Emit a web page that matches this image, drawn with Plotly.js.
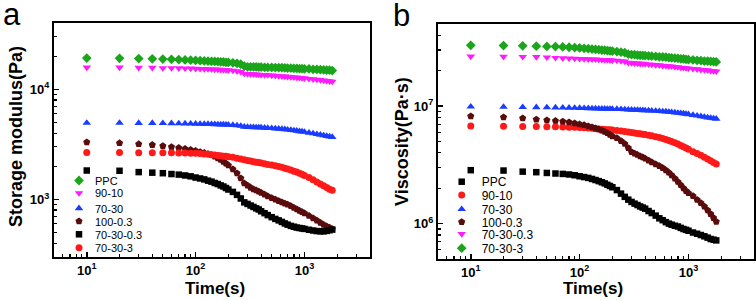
<!DOCTYPE html>
<html>
<head>
<meta charset="utf-8">
<script src="https://cdn.plot.ly/plotly-3.0.1.min.js"></script>
<style>html,body{margin:0;padding:0;background:#fff;}#plot{width:756px;height:300px;}</style>
</head>
<body>
<div id="plot"></div>
<script>
// ---- Data ----
const time = [10,20,30,40,50,60,70,80,90,100,110,120,130,140,150,160,170,180,190,200,220,240,260,280,300,320,340,360,380,400,430,460,500,540,580,620,660,700,750,800,850,900,950,1000,1100,1200,1300,1400,1500,1600,1700,1800];

// Panel a: storage modulus (Pa)
const gNames = ['PPC','90-10','70-30','100-0.3','70-30-0.3','70-30-3'];
const gPPC = [19200,19100,19000,18900,18800,18700,18600,18500,18400,18300,18200,18100,18000,17950,17900,17800,17750,17700,17600,17550,17400,17200,16900,16200,16000,16000,15950,15950,15900,15900,15850,15800,15800,15750,15700,15700,15650,15600,15550,15500,15450,15400,15400,15350,15300,15200,15150,15100,15000,14950,14900,14800];
const g90_10 = [15800,15800,15700,15700,15600,15600,15550,15500,15450,15400,15350,15300,15250,15200,15150,15100,15050,15000,14950,14900,14800,14600,14400,13900,13800,13750,13700,13650,13600,13550,13500,13450,13350,13300,13200,13150,13100,13000,12950,12850,12800,12700,12650,12600,12450,12350,12250,12150,12050,11950,11850,11750];
const g70_30 = [4950,4950,4940,4930,4920,4910,4900,4890,4870,4860,4850,4840,4830,4820,4810,4800,4790,4780,4770,4760,4740,4700,4650,4560,4540,4530,4520,4510,4500,4490,4470,4450,4430,4400,4380,4350,4330,4300,4270,4230,4200,4160,4130,4100,4030,3970,3910,3860,3810,3760,3720,3680];
const g100_03 = [3310,3250,3180,3130,3060,3000,2940,2880,2820,2760,2700,2650,2590,2530,2450,2370,2290,2200,2120,2040,1880,1730,1560,1400,1340,1280,1240,1210,1180,1150,1110,1070,1030,1000,970,945,920,900,870,840,815,790,770,750,710,675,645,615,590,570,555,540];
const g70_30_03 = [1830,1820,1770,1750,1730,1700,1680,1650,1620,1580,1550,1520,1480,1450,1410,1380,1340,1310,1270,1230,1170,1100,1020,940,910,880,855,830,810,780,750,720,690,665,645,625,605,590,575,565,555,550,545,540,530,522,516,513,513,518,525,532];
const g70_30_3 = [2670,2670,2660,2660,2650,2650,2640,2640,2630,2620,2610,2590,2570,2550,2530,2510,2490,2470,2460,2440,2410,2370,2330,2290,2260,2230,2200,2180,2160,2140,2110,2080,2050,2020,1990,1960,1920,1890,1850,1800,1770,1730,1690,1650,1580,1510,1440,1380,1330,1280,1240,1210];

// Panel b: viscosity (Pa·s)
const vNames = ['PPC','90-10','70-30','100-0.3','70-30-0.3','70-30-3'];
const vPPC = [2.85e6,2.83e6,2.77e6,2.74e6,2.70e6,2.67e6,2.65e6,2.62e6,2.58e6,2.53e6,2.49e6,2.45e6,2.40e6,2.35e6,2.30e6,2.25e6,2.20e6,2.14e6,2.09e6,2.04e6,1.93e6,1.80e6,1.69e6,1.60e6,1.53e6,1.48e6,1.44e6,1.40e6,1.37e6,1.34e6,1.28e6,1.23e6,1.17e6,1.11e6,1.07e6,1.03e6,1.00e6,9.8e5,9.6e5,9.45e5,9.2e5,9.0e5,8.85e5,8.7e5,8.4e5,8.2e5,8.0e5,7.8e5,7.6e5,7.4e5,7.3e5,7.2e5];
const v90_10 = [6.76e6,6.74e6,6.72e6,6.70e6,6.68e6,6.66e6,6.64e6,6.62e6,6.60e6,6.57e6,6.54e6,6.50e6,6.47e6,6.43e6,6.40e6,6.37e6,6.34e6,6.31e6,6.28e6,6.25e6,6.19e6,6.13e6,6.07e6,6.01e6,5.96e6,5.91e6,5.86e6,5.81e6,5.77e6,5.73e6,5.66e6,5.59e6,5.50e6,5.40e6,5.30e6,5.20e6,5.10e6,5.00e6,4.88e6,4.75e6,4.63e6,4.52e6,4.41e6,4.30e6,4.10e6,3.95e6,3.82e6,3.68e6,3.55e6,3.43e6,3.32e6,3.22e6];
const v70_30 = [9.9e6,9.85e6,9.8e6,9.78e6,9.75e6,9.72e6,9.7e6,9.68e6,9.65e6,9.62e6,9.6e6,9.58e6,9.56e6,9.54e6,9.52e6,9.5e6,9.49e6,9.47e6,9.46e6,9.45e6,9.43e6,9.41e6,9.38e6,9.33e6,9.3e6,9.28e6,9.26e6,9.24e6,9.22e6,9.2e6,9.17e6,9.14e6,9.1e6,9.06e6,9.02e6,8.98e6,8.93e6,8.88e6,8.82e6,8.76e6,8.7e6,8.64e6,8.58e6,8.52e6,8.4e6,8.3e6,8.2e6,8.1e6,8.0e6,7.93e6,7.86e6,7.8e6];
const v100_03 = [8.2e6,8.06e6,7.9e6,7.7e6,7.6e6,7.5e6,7.4e6,7.3e6,7.15e6,7.0e6,6.9e6,6.75e6,6.62e6,6.48e6,6.35e6,6.2e6,6.05e6,5.9e6,5.72e6,5.55e6,5.35e6,5.05e6,4.78e6,4.4e6,4.07e6,3.95e6,3.85e6,3.75e6,3.67e6,3.58e6,3.45e6,3.33e6,3.2e6,3.1e6,2.98e6,2.85e6,2.72e6,2.58e6,2.42e6,2.27e6,2.13e6,2.0e6,1.9e6,1.82e6,1.72e6,1.6e6,1.5e6,1.4e6,1.3e6,1.21e6,1.12e6,1.04e6];
const v70_30_03 = [2.65e7,2.64e7,2.63e7,2.62e7,2.6e7,2.58e7,2.56e7,2.55e7,2.54e7,2.53e7,2.52e7,2.51e7,2.5e7,2.5e7,2.49e7,2.48e7,2.48e7,2.47e7,2.46e7,2.45e7,2.44e7,2.42e7,2.4e7,2.34e7,2.33e7,2.32e7,2.31e7,2.3e7,2.3e7,2.29e7,2.27e7,2.26e7,2.24e7,2.23e7,2.21e7,2.2e7,2.19e7,2.18e7,2.16e7,2.15e7,2.13e7,2.12e7,2.11e7,2.1e7,2.08e7,2.06e7,2.04e7,2.03e7,2.02e7,2.0e7,1.99e7,1.98e7];
const v70_30_3 = [3.29e7,3.28e7,3.26e7,3.24e7,3.22e7,3.21e7,3.19e7,3.17e7,3.15e7,3.13e7,3.1e7,3.08e7,3.06e7,3.04e7,3.02e7,3.0e7,2.99e7,2.97e7,2.95e7,2.94e7,2.91e7,2.88e7,2.85e7,2.77e7,2.75e7,2.74e7,2.72e7,2.71e7,2.7e7,2.69e7,2.68e7,2.66e7,2.65e7,2.63e7,2.62e7,2.61e7,2.59e7,2.58e7,2.56e7,2.55e7,2.53e7,2.52e7,2.5e7,2.49e7,2.47e7,2.45e7,2.44e7,2.42e7,2.41e7,2.4e7,2.39e7,2.38e7];

// Tick labels
const xTickVals = [10,100,1000];
const xTickText = ['10<sup>1</sup>','10<sup>2</sup>','10<sup>3</sup>'];
const gTickVals = [1000,10000];
const gTickText = ['10<sup>3</sup>','10<sup>4</sup>'];
const vTickVals = [1e6,1e7];
const vTickText = ['10<sup>6</sup>','10<sup>7</sup>'];

// ---- Styles ----
const FONT = 'Arial, "Liberation Sans", Helvetica, sans-serif';
const C = {green:'#1aa51a', magenta:'#ff1aff', blue:'#1a3cff', brown:'#5a0b0b', black:'#000000', red:'#ff1a1a'};

const gStyle = [
  {color:C.green, symbol:'diamond', size:7.5},
  {color:C.magenta, symbol:'triangle-down', size:7.5},
  {color:C.blue, symbol:'triangle-up', size:7.5},
  {color:C.brown, symbol:'pentagon', size:7.5},
  {color:C.black, symbol:'square', size:6.5},
  {color:C.red, symbol:'circle', size:7}
];
const vStyle = [
  {color:C.black, symbol:'square', size:6.5},
  {color:C.red, symbol:'circle', size:7},
  {color:C.blue, symbol:'triangle-up', size:7.5},
  {color:C.brown, symbol:'pentagon', size:7.5},
  {color:C.magenta, symbol:'triangle-down', size:7.5},
  {color:C.green, symbol:'diamond', size:7.5}
];

const gSeries = [gPPC, g90_10, g70_30, g100_03, g70_30_03, g70_30_3];
const vSeries = [vPPC, v90_10, v70_30, v100_03, v70_30_03, v70_30_3];

const data = [];
gSeries.forEach((ys, i) => data.push({
  type:'scatter', mode:'markers', x: time, y: ys, name: gNames[i],
  xaxis:'x', yaxis:'y', legend:'legend',
  marker:{color:gStyle[i].color, symbol:gStyle[i].symbol, size:gStyle[i].size, line:{width:0}}
}));
vSeries.forEach((ys, i) => data.push({
  type:'scatter', mode:'markers', x: time, y: ys, name: vNames[i],
  xaxis:'x2', yaxis:'y2', legend:'legend2',
  marker:{color:vStyle[i].color, symbol:vStyle[i].symbol, size:vStyle[i].size, line:{width:0}}
}));

const tickFont = {family:FONT, size:13, color:'#000', weight:'bold'};
function logAxis(extra){
  return Object.assign({
    type:'log', showgrid:false, zeroline:false,
    showline:true, mirror:true, linecolor:'#000', linewidth:2,
    ticks:'inside', ticklen:5, tickwidth:1.5, tickcolor:'#000',
    tickmode:'array', tickfont:tickFont,
    minor:{tickmode:'linear', dtick:'D1', ticks:'inside', ticklen:3, tickwidth:1.2, tickcolor:'#000'}
  }, extra);
}

const W = 756, H = 300;
const px = v => v / W, py = v => 1 - v / H;

const layout = {
  width:W, height:H, margin:{l:0, r:0, t:0, b:0},
  paper_bgcolor:'#fff', plot_bgcolor:'#fff',
  font:{family:FONT, color:'#000'},
  showlegend:true,
  xaxis: logAxis({domain:[px(54), px(370)], anchor:'y', range:[Math.log10(5), Math.log10(4000)], tickvals:xTickVals, ticktext:xTickText}),
  yaxis: logAxis({domain:[py(257), py(23)], anchor:'x', range:[Math.log10(300), Math.log10(40000)], tickvals:gTickVals, ticktext:gTickText}),
  xaxis2: logAxis({domain:[px(438), px(754)], anchor:'y2', range:[Math.log10(5), Math.log10(4000)], tickvals:xTickVals, ticktext:xTickText}),
  yaxis2: logAxis({domain:[py(259), py(24)], anchor:'x2', range:[Math.log10(5e5), Math.log10(5e7)], tickvals:vTickVals, ticktext:vTickText}),
  legend:{x:px(62), y:py(168), xanchor:'left', yanchor:'top', bgcolor:'rgba(0,0,0,0)', borderwidth:0, font:{family:FONT, size:11, color:'#000'}, itemwidth:30},
  legend2:{x:px(444), y:py(168), xanchor:'left', yanchor:'top', bgcolor:'rgba(0,0,0,0)', borderwidth:0, font:{family:FONT, size:12, color:'#000'}, itemwidth:30},
  annotations:[
    {text:'a', xref:'paper', yref:'paper', x:px(12), y:py(14), xanchor:'center', yanchor:'middle', height:22, valign:'middle', showarrow:false, font:{family:FONT, size:31, color:'#000'}},
    {text:'b', xref:'paper', yref:'paper', x:px(401), y:py(15.5), xanchor:'center', yanchor:'middle', height:24, valign:'middle', showarrow:false, font:{family:FONT, size:31, color:'#000'}},
    {text:'Time(s)', xref:'paper', yref:'paper', x:px(215), y:py(288), xanchor:'center', yanchor:'middle', showarrow:false, font:{family:FONT, size:17, color:'#000', weight:'bold'}},
    {text:'Time(s)', xref:'paper', yref:'paper', x:px(593), y:py(288), xanchor:'center', yanchor:'middle', showarrow:false, font:{family:FONT, size:17, color:'#000', weight:'bold'}},
    {text:'Storage modulus(Pa)', xref:'paper', yref:'paper', x:px(16), y:py(137), xanchor:'center', yanchor:'middle', textangle:-90, showarrow:false, font:{family:FONT, size:18, color:'#000', weight:'bold'}},
    {text:'Viscosity(Pa·s)', xref:'paper', yref:'paper', x:px(402), y:py(142), xanchor:'center', yanchor:'middle', textangle:-90, showarrow:false, font:{family:FONT, size:18, color:'#000', weight:'bold'}}
  ]
};

// compact legend rows to match the reference spacing
function tightenLegends(gd){
  const specs = [
    {x:79, y0:180.5, dy:13.45, gap:16},
    {x:461.7, y0:181.7, dy:13.3, gap:11.5}
  ];
  const root = gd.getBoundingClientRect();
  const items = gd.querySelectorAll('g.traces');
  items.forEach((item, k) => {
    const s = specs[k < 6 ? 0 : 1], i = k % 6;
    const pt = item.querySelector('path.scatterpts');
    if(!pt) return;
    const r = pt.getBoundingClientRect();
    const cx = r.left - root.left + r.width/2, cy = r.top - root.top + r.height/2;
    const m = /translate\(\s*([-\d.e]+)[\s,]+([-\d.e]+)\s*\)/.exec(item.getAttribute('transform') || '');
    const tx0 = m ? parseFloat(m[1]) : 0, ty0 = m ? parseFloat(m[2]) : 0;
    item.setAttribute('transform', 'translate(' + (tx0 + s.x - cx) + ',' + (ty0 + s.y0 + i*s.dy - cy) + ')');
    const txt = item.querySelector('text.legendtext');
    if(txt){
      const tr = txt.getBoundingClientRect();
      const curLeft = tr.left - root.left;
      txt.setAttribute('x', parseFloat(txt.getAttribute('x') || 0) + (s.x + s.gap - curLeft));
    }
  });
}

Plotly.newPlot('plot', data, layout, {staticPlot:true, displayModeBar:false}).then(tightenLegends);
</script>
</body>
</html>
